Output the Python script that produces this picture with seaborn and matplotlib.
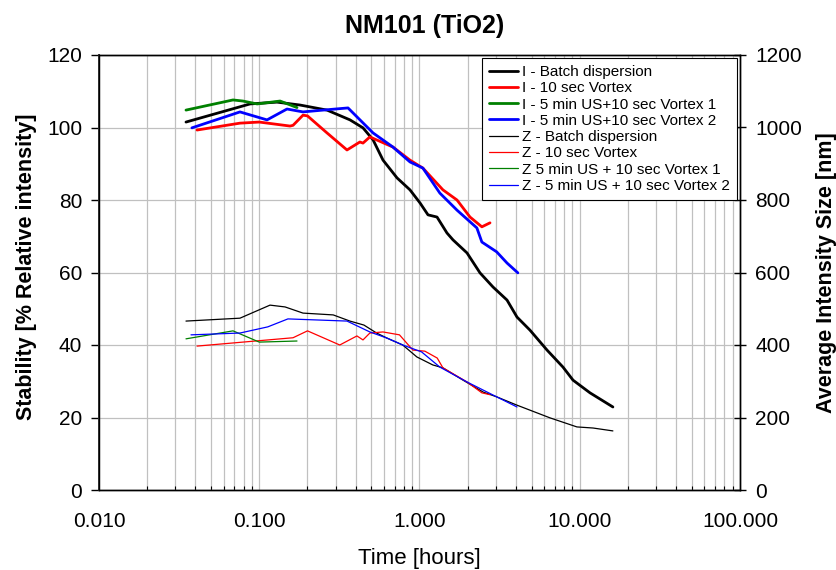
import numpy as np
import pandas as pd
import matplotlib
matplotlib.use("Agg")
import matplotlib.pyplot as plt
import seaborn as sns
from matplotlib.ticker import FuncFormatter, LogLocator, NullFormatter

# ---------------- data ----------------
# Intensity (left axis, % relative intensity)
i_batch_t = [0.0349, 0.0876, 0.129, 0.1796, 0.2648, 0.3684, 0.444, 0.513, 0.592, 0.724, 0.872, 1.007,
             1.13, 1.286, 1.484, 1.618, 1.979, 2.385, 2.875, 3.516, 4.06, 4.89, 6.25, 7.86, 9.08, 11.59, 16.1]
i_batch_y = [101.5, 106.5, 107.0, 106.2, 104.8, 102.1, 99.9, 96.6, 91.0, 86.1, 82.8, 79.2,
             75.9, 75.3, 70.9, 69.0, 65.4, 59.9, 56.0, 52.4, 47.7, 44.1, 38.6, 33.9, 30.3, 26.8, 22.9]

i_vortex_t = [0.0409, 0.0758, 0.1, 0.1556, 0.1625, 0.1875, 0.2, 0.2648, 0.3528, 0.4246, 0.444, 0.49,
              0.683, 0.872, 1.05, 1.40, 1.714, 2.066, 2.45, 2.754]
i_vortex_y = [99.3, 101.2, 101.5, 100.4, 100.6, 103.4, 103.2, 98.5, 93.8, 96.0, 95.7, 97.4,
              94.6, 91.0, 88.8, 82.8, 80.0, 75.3, 72.6, 73.7]

i_us1_t = [0.0349, 0.0686, 0.079, 0.097, 0.1349, 0.172]
i_us1_y = [104.8, 107.6, 107.3, 106.5, 107.3, 105.5]

i_us2_t = [0.038, 0.0758, 0.1118, 0.149, 0.1875, 0.25, 0.358, 0.513, 0.683, 0.872, 1.05, 1.34,
           1.714, 2.28, 2.45, 3.03, 3.52, 4.11]
i_us2_y = [99.9, 104.3, 102.1, 105.1, 104.3, 104.8, 105.4, 98.5, 94.6, 90.5, 88.8, 81.9,
           77.2, 72.3, 68.4, 65.7, 62.6, 59.9]

# Z-average size (right axis, nm)
z_batch_t = [0.0349, 0.0758, 0.1167, 0.1449, 0.1875, 0.2894, 0.368, 0.45, 0.54, 0.627, 0.786, 0.963,
             1.21, 1.40, 1.87, 2.50, 3.03, 4.06, 6.52, 9.6, 12.1, 16.1]
z_batch_y = [466, 474, 510, 505, 488, 483, 466, 455, 433, 419, 400, 367,
             345, 337, 303, 270, 257, 234, 199, 174, 171, 163]

z_vortex_t = [0.0409, 0.1625, 0.2, 0.318, 0.407, 0.444, 0.49, 0.592, 0.75, 0.909, 1.08, 1.29,
              1.40, 1.98, 2.45, 2.75]
z_vortex_y = [397, 420, 439, 400, 425, 414, 433, 436, 428, 386, 383, 364,
              337, 298, 268, 263]

z_us1_t = [0.0349, 0.0686, 0.1, 0.172]
z_us1_y = [417, 439, 408, 411]

z_us2_t = [0.0375, 0.0758, 0.113, 0.151, 0.353, 0.49, 0.627, 0.786, 1.03, 1.34, 1.98, 3.03, 4.06]
z_us2_y = [428, 433, 450, 472, 466, 436, 419, 400, 381, 339, 298, 257, 229]

labels_i = ["I - Batch dispersion", "I - 10 sec Vortex",
            "I - 5 min US+10 sec Vortex 1", "I - 5 min US+10 sec Vortex 2"]
labels_z = ["Z - Batch dispersion", "Z - 10 sec Vortex",
            "Z 5 min US + 10 sec Vortex 1", "Z - 5 min US + 10 sec Vortex 2"]
colors = ["#000000", "#ff0000", "#008000", "#0000ff"]

# ---------------- style ----------------
sns.set_style("white")
plt.rcParams["font.family"] = ["Liberation Sans", "DejaVu Sans"]
plt.rcParams.update({"text.color": "black", "axes.labelcolor": "black",
                     "xtick.color": "black", "ytick.color": "black"})

W, H = 837, 570
fig = plt.figure(figsize=(W / 100, H / 100), dpi=100)
ax = fig.add_axes([99 / W, 1 - 490 / H, (740 - 99) / W, (490 - 55) / H])
ax2 = ax.twinx()

handles = []
i_series = [(i_batch_t, i_batch_y), (i_vortex_t, i_vortex_y), (i_us1_t, i_us1_y), (i_us2_t, i_us2_y)]
z_series = [(z_batch_t, z_batch_y), (z_vortex_t, z_vortex_y), (z_us1_t, z_us1_y), (z_us2_t, z_us2_y)]

for (t, y), lab, c in zip(i_series, labels_i, colors):
    df = pd.DataFrame({"t": t, "y": y})
    sns.lineplot(data=df, x="t", y="y", ax=ax, color=c, lw=2.0, estimator=None, legend=False)
    handles.append(ax.lines[-1])
for (t, y), lab, c in zip(z_series, labels_z, colors):
    df = pd.DataFrame({"t": t, "y": y})
    sns.lineplot(data=df, x="t", y="y", ax=ax2, color=c, lw=0.9, estimator=None, legend=False)
    handles.append(ax2.lines[-1])

ax.set_xscale("log")
ax.set_xlim(0.01, 100)
ax.set_ylim(0, 120)
ax2.set_ylim(0, 1200)
ax.set_yticks(range(0, 121, 20))
ax2.set_yticks(range(0, 1201, 200))

ax.xaxis.set_major_locator(LogLocator(base=10))
ax.xaxis.set_minor_locator(LogLocator(base=10, subs=np.arange(2, 10)))
ax.xaxis.set_major_formatter(FuncFormatter(lambda v, p: f"{v:.3f}"))
ax.xaxis.set_minor_formatter(NullFormatter())

ax.grid(True, which="both", axis="x", color="#c0c0c0", lw=0.9)
ax.grid(True, which="major", axis="y", color="#c0c0c0", lw=0.9)
ax2.grid(False)
ax.set_axisbelow(True)

for a in (ax, ax2):
    for s in a.spines.values():
        s.set_color("black")
        s.set_linewidth(1.0)
ax.spines["left"].set_color("#333333")
ax.spines["left"].set_linewidth(1.4)

ax.tick_params(axis="y", which="major", direction="out", length=6, width=1, labelsize=15,
               colors="black", pad=6)
ax.tick_params(axis="x", which="major", direction="in", length=5, width=1, labelsize=15, pad=16)
ax.tick_params(axis="x", which="minor", direction="in", length=3, width=0.8, bottom=True)
ax2.tick_params(axis="y", which="major", direction="inout", length=8, width=1, labelsize=15,
                colors="black", pad=7)

ax.set_xlabel("Time [hours]", fontsize=16, labelpad=12)
ax.set_ylabel("Stability [% Relative intensity]", fontsize=15.5, fontweight="bold")
ax.yaxis.set_label_coords((37 - 99) / 641, 0.513)
ax2.set_ylabel("Average Intensity Size [nm]", fontsize=15.5, fontweight="bold")
ax2.yaxis.set_label_coords((816 - 99) / 641, 0.5)
fig.suptitle("NM101 (TiO2)", fontsize=18, fontweight="bold", x=425 / W, y=1 - 33 / H, va="baseline")

leg = ax2.legend(handles, labels_i + labels_z, loc="upper right", fontsize=11,
                 frameon=True, fancybox=False, framealpha=1, edgecolor="black",
                 borderaxespad=0.2, handlelength=1.9, handletextpad=0.25, labelspacing=0.15,
                 borderpad=0.45)
leg.get_frame().set_linewidth(0.8)

fig.savefig("out.png", dpi=100)
